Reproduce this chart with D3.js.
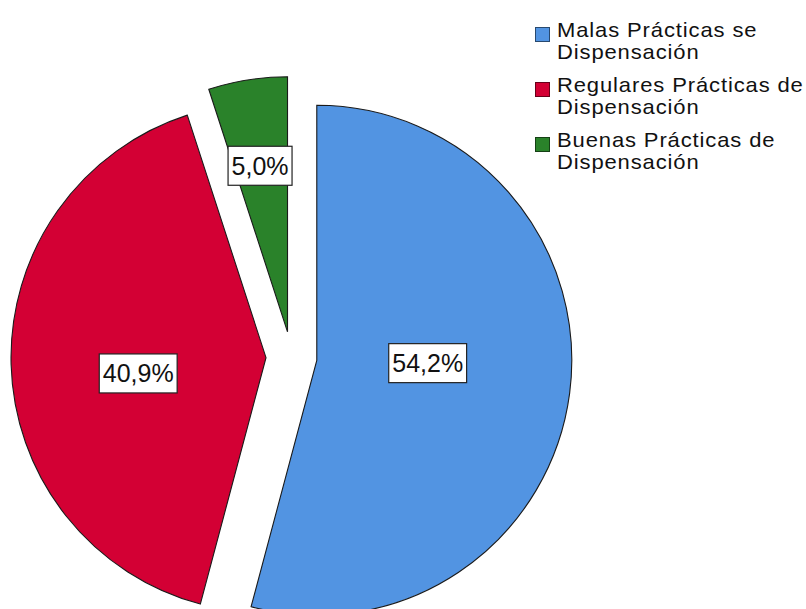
<!DOCTYPE html>
<html>
<head>
<meta charset="utf-8">
<script src="https://cdn.jsdelivr.net/npm/d3@7"></script>
<style>
  html, body { margin: 0; padding: 0; background: #ffffff; }
  svg { display: block; font-family: "Liberation Sans", Arial, sans-serif; }
</style>
</head>
<body>
<svg id="chart" width="806" height="609"></svg>
<script>
// ---- data ----
const categories = [
  "Malas Prácticas se Dispensación",
  "Regulares Prácticas de Dispensación",
  "Buenas Prácticas de Dispensación"
];
const legendLines = [
  ["Malas Prácticas se", "Dispensación"],
  ["Regulares Prácticas de", "Dispensación"],
  ["Buenas Prácticas de", "Dispensación"]
];
const percents = [54.2, 40.9, 5.0];
const percentLabels = ["54,2%", "40,9%", "5,0%"];
const colors = ["#5294E2", "#D30034", "#2A822A"];

// ---- layout ----
const W = 806, H = 609;
const cx = 291.5, cy = 357, R = 255, explode = 25.5;
// label placement (fraction of radius, angular shift in degrees) per slice
const labelRadiusFrac = [0.435, 0.505, 0.66];
const labelAngleShift = [-6, -5.5, -0.4];

const svg = d3.select("#chart");

const pie = d3.pie().sort(null).value(d => d)(percents);
const arc = d3.arc().innerRadius(0).outerRadius(R);

const g = svg.append("g").attr("transform", `translate(${cx},${cy})`);

const slices = g.selectAll("g.slice")
  .data(pie)
  .enter().append("g")
  .attr("class", "slice")
  .attr("transform", d => {
    const mid = (d.startAngle + d.endAngle) / 2;
    return `translate(${explode * Math.sin(mid)},${-explode * Math.cos(mid)})`;
  });

slices.append("path")
  .attr("d", arc)
  .attr("fill", (d, i) => colors[i])
  .attr("stroke", "#1a1a1a")
  .attr("stroke-width", 1.1)
  .attr("stroke-linejoin", "miter");

const labelFont = 25;
slices.each(function(d, i) {
  const mid = (d.startAngle + d.endAngle) / 2 + labelAngleShift[i] * Math.PI / 180;
  const dist = labelRadiusFrac[i] * R;
  const x = dist * Math.sin(mid);
  const y = -dist * Math.cos(mid);
  const lg = d3.select(this).append("g").attr("transform", `translate(${x},${y})`);
  const rect = lg.append("rect");
  const t = lg.append("text")
    .attr("text-anchor", "middle")
    .attr("dominant-baseline", "central")
    .attr("font-size", labelFont)
    .attr("fill", "#111")
    .text(percentLabels[i]);
  const bw = t.node().getComputedTextLength() + 7;
  const bh = 39;
  rect.attr("x", -bw / 2).attr("y", -bh / 2)
    .attr("width", bw).attr("height", bh)
    .attr("fill", "#ffffff")
    .attr("stroke", "#222")
    .attr("stroke-width", 1.2);
});

// ---- legend ----
const legend = svg.append("g").attr("transform", "translate(535.5,27.5)");
const legendStep = 55;
const legendFont = 20;
const items = legend.selectAll("g.item")
  .data(categories)
  .enter().append("g")
  .attr("class", "item")
  .attr("transform", (d, i) => `translate(0,${i * legendStep})`);

items.append("rect")
  .attr("x", 0).attr("y", 0)
  .attr("width", 14).attr("height", 14)
  .attr("fill", (d, i) => colors[i])
  .attr("stroke", (d, i) => d3.color(colors[i]).darker(2))
  .attr("stroke-width", 1);

items.each(function(d, i) {
  const t = d3.select(this).append("g")
    .attr("transform", "translate(21.5,0) scale(1.1,1)")
    .append("text")
    .attr("font-size", legendFont)
    .attr("letter-spacing", 0.8)
    .attr("fill", "#111");
  legendLines[i].forEach((line, k) => {
    t.append("tspan")
      .attr("x", 0)
      .attr("y", 9 + k * 22.5)
      .text(line);
  });
});
</script>
</body>
</html>
